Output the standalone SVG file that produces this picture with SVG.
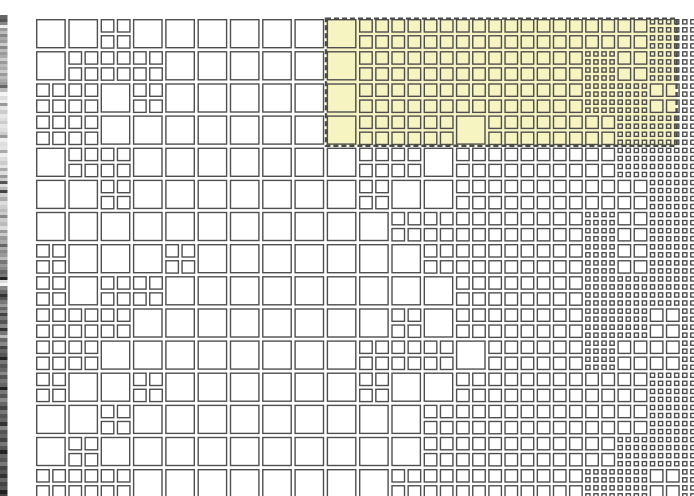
<svg xmlns="http://www.w3.org/2000/svg" xmlns:xlink="http://www.w3.org/1999/xlink" width="694" height="496" viewBox="0 0 694 496">
<style>
.c{fill:none;stroke:#4f4f4f;stroke-width:1.4}
</style>
<defs>
<g id="a"><rect class="c" x="0.7" y="0.7" width="28.4" height="28"/></g>
<g id="b"><rect class="c" x="0.7" y="0.7" width="12.5" height="12.3"/><rect class="c" x="16.85" y="0.7" width="12.5" height="12.3"/><rect class="c" x="0.7" y="16.77" width="12.5" height="12.3"/><rect class="c" x="16.85" y="16.77" width="12.5" height="12.3"/></g>
<g id="cr"><rect class="c" x="0.7" y="0" width="4.2" height="4.2"/><rect class="c" x="8.77" y="0" width="4.2" height="4.2"/><rect class="c" x="16.84" y="0" width="4.2" height="4.2"/><rect class="c" x="24.91" y="0" width="4.2" height="4.2"/></g>
<g id="c"><use href="#cr" y="0.7"/><use href="#cr" y="8.73"/><use href="#cr" y="16.77"/><use href="#cr" y="24.8"/></g>
</defs>
<rect width="694" height="496" fill="#fff"/>
<g id="strip">
<rect x="0" y="15" width="7.5" height="4" fill="#666"/><rect x="0" y="19" width="7.5" height="3" fill="#555"/><rect x="0" y="22" width="7.5" height="3" fill="#888"/><rect x="0" y="25" width="7.5" height="3" fill="#eee"/><rect x="0" y="28" width="7.5" height="3" fill="#999"/><rect x="0" y="31" width="7.5" height="3" fill="#bbb"/><rect x="0" y="34" width="7.5" height="3" fill="#888"/><rect x="0" y="37" width="7.5" height="3" fill="#aaa"/><rect x="0" y="40" width="7.5" height="3" fill="#999"/><rect x="0" y="43" width="7.5" height="3" fill="#ccc"/><rect x="0" y="46" width="7.5" height="3" fill="#888"/><rect x="0" y="49" width="7.5" height="3" fill="#bbb"/><rect x="0" y="52" width="7.5" height="3" fill="#999"/><rect x="0" y="55" width="7.5" height="3" fill="#aaa"/><rect x="0" y="58" width="7.5" height="3" fill="#ccc"/><rect x="0" y="61" width="7.5" height="3" fill="#999"/><rect x="0" y="64" width="7.5" height="3" fill="#bbb"/><rect x="0" y="67" width="7.5" height="3" fill="#aaa"/><rect x="0" y="70" width="7.5" height="3" fill="#ccc"/><rect x="0" y="73" width="7.5" height="3" fill="#999"/><rect x="0" y="76" width="7.5" height="3" fill="#bbb"/><rect x="0" y="79" width="7.5" height="3" fill="#aaa"/><rect x="0" y="82" width="7.5" height="3" fill="#999"/><rect x="0" y="85" width="7.5" height="3" fill="#666"/><rect x="0" y="88" width="7.5" height="4" fill="#bbb"/><rect x="0" y="92" width="7.5" height="4" fill="#f4f4f4"/><rect x="0" y="96" width="7.5" height="4" fill="#ddd"/><rect x="0" y="100" width="7.5" height="3" fill="#eee"/><rect x="0" y="103" width="7.5" height="3" fill="#999"/><rect x="0" y="106" width="7.5" height="4" fill="#e4e4e4"/><rect x="0" y="110" width="7.5" height="4" fill="#ccc"/><rect x="0" y="114" width="7.5" height="4" fill="#e8e8e8"/><rect x="0" y="118" width="7.5" height="3" fill="#ddd"/><rect x="0" y="121" width="7.5" height="3" fill="#ccc"/><rect x="0" y="124" width="7.5" height="4" fill="#e6e6e6"/><rect x="0" y="128" width="7.5" height="4" fill="#ddd"/><rect x="0" y="132" width="7.5" height="3" fill="#ccc"/><rect x="0" y="135" width="7.5" height="3" fill="#999"/><rect x="0" y="138" width="7.5" height="4" fill="#eee"/><rect x="0" y="142" width="7.5" height="4" fill="#ddd"/><rect x="0" y="146" width="7.5" height="4" fill="#e4e4e4"/><rect x="0" y="150" width="7.5" height="3" fill="#aaa"/><rect x="0" y="153" width="7.5" height="4" fill="#eee"/><rect x="0" y="157" width="7.5" height="4" fill="#ddd"/><rect x="0" y="161" width="7.5" height="4" fill="#ccc"/><rect x="0" y="165" width="7.5" height="3" fill="#e4e4e4"/><rect x="0" y="168" width="7.5" height="3" fill="#aaa"/><rect x="0" y="171" width="7.5" height="4" fill="#ddd"/><rect x="0" y="175" width="7.5" height="3" fill="#999"/><rect x="0" y="178" width="7.5" height="3" fill="#ccc"/><rect x="0" y="181" width="7.5" height="3" fill="#555"/><rect x="0" y="184" width="7.5" height="3" fill="#ddd"/><rect x="0" y="187" width="7.5" height="3" fill="#bbb"/><rect x="0" y="190" width="7.5" height="3" fill="#444"/><rect x="0" y="193" width="7.5" height="4" fill="#ccc"/><rect x="0" y="197" width="7.5" height="4" fill="#aaa"/><rect x="0" y="201" width="7.5" height="4" fill="#ddd"/><rect x="0" y="205" width="7.5" height="4" fill="#ccc"/><rect x="0" y="209" width="7.5" height="3" fill="#bbb"/><rect x="0" y="212" width="7.5" height="3" fill="#ccc"/><rect x="0" y="215" width="7.5" height="3" fill="#888"/><rect x="0" y="218" width="7.5" height="4" fill="#ccc"/><rect x="0" y="222" width="7.5" height="4" fill="#bbb"/><rect x="0" y="226" width="7.5" height="4" fill="#ddd"/><rect x="0" y="230" width="7.5" height="3" fill="#999"/><rect x="0" y="233" width="7.5" height="3" fill="#ccc"/><rect x="0" y="236" width="7.5" height="4" fill="#999"/><rect x="0" y="240" width="7.5" height="4" fill="#aaa"/><rect x="0" y="244" width="7.5" height="3" fill="#666"/><rect x="0" y="247" width="7.5" height="3" fill="#aaa"/><rect x="0" y="250" width="7.5" height="3" fill="#888"/><rect x="0" y="253" width="7.5" height="4" fill="#999"/><rect x="0" y="257" width="7.5" height="3" fill="#bbb"/><rect x="0" y="260" width="7.5" height="4" fill="#777"/><rect x="0" y="264" width="7.5" height="3" fill="#999"/><rect x="0" y="267" width="7.5" height="3" fill="#888"/><rect x="0" y="270" width="7.5" height="4" fill="#666"/><rect x="0" y="274" width="7.5" height="3" fill="#777"/><rect x="0" y="277" width="7.5" height="3" fill="#222"/><rect x="0" y="280" width="7.5" height="3" fill="#ddd"/><rect x="0" y="283" width="7.5" height="3" fill="#f4f4f4"/><rect x="0" y="286" width="7.5" height="4" fill="#888"/><rect x="0" y="290" width="7.5" height="4" fill="#666"/><rect x="0" y="294" width="7.5" height="3" fill="#333"/><rect x="0" y="297" width="7.5" height="3" fill="#555"/><rect x="0" y="300" width="7.5" height="4" fill="#777"/><rect x="0" y="304" width="7.5" height="3" fill="#999"/><rect x="0" y="307" width="7.5" height="3" fill="#666"/><rect x="0" y="310" width="7.5" height="3" fill="#888"/><rect x="0" y="313" width="7.5" height="3" fill="#444"/><rect x="0" y="316" width="7.5" height="4" fill="#777"/><rect x="0" y="320" width="7.5" height="4" fill="#555"/><rect x="0" y="324" width="7.5" height="4" fill="#888"/><rect x="0" y="328" width="7.5" height="3" fill="#333"/><rect x="0" y="331" width="7.5" height="4" fill="#777"/><rect x="0" y="335" width="7.5" height="3" fill="#bbb"/><rect x="0" y="338" width="7.5" height="4" fill="#666"/><rect x="0" y="342" width="7.5" height="4" fill="#888"/><rect x="0" y="346" width="7.5" height="3" fill="#444"/><rect x="0" y="349" width="7.5" height="4" fill="#666"/><rect x="0" y="353" width="7.5" height="4" fill="#555"/><rect x="0" y="357" width="7.5" height="3" fill="#222"/><rect x="0" y="360" width="7.5" height="4" fill="#777"/><rect x="0" y="364" width="7.5" height="4" fill="#555"/><rect x="0" y="368" width="7.5" height="4" fill="#666"/><rect x="0" y="372" width="7.5" height="3" fill="#888"/><rect x="0" y="375" width="7.5" height="4" fill="#555"/><rect x="0" y="379" width="7.5" height="4" fill="#777"/><rect x="0" y="383" width="7.5" height="4" fill="#666"/><rect x="0" y="387" width="7.5" height="3" fill="#222"/><rect x="0" y="390" width="7.5" height="4" fill="#777"/><rect x="0" y="394" width="7.5" height="4" fill="#555"/><rect x="0" y="398" width="7.5" height="4" fill="#888"/><rect x="0" y="402" width="7.5" height="4" fill="#666"/><rect x="0" y="406" width="7.5" height="4" fill="#444"/><rect x="0" y="410" width="7.5" height="4" fill="#777"/><rect x="0" y="414" width="7.5" height="4" fill="#555"/><rect x="0" y="418" width="7.5" height="4" fill="#666"/><rect x="0" y="422" width="7.5" height="4" fill="#333"/><rect x="0" y="426" width="7.5" height="4" fill="#888"/><rect x="0" y="430" width="7.5" height="4" fill="#555"/><rect x="0" y="434" width="7.5" height="4" fill="#666"/><rect x="0" y="438" width="7.5" height="4" fill="#444"/><rect x="0" y="442" width="7.5" height="4" fill="#777"/><rect x="0" y="446" width="7.5" height="4" fill="#555"/><rect x="0" y="450" width="7.5" height="4" fill="#222"/><rect x="0" y="454" width="7.5" height="4" fill="#666"/><rect x="0" y="458" width="7.5" height="4" fill="#555"/><rect x="0" y="462" width="7.5" height="4" fill="#777"/><rect x="0" y="466" width="7.5" height="4" fill="#444"/><rect x="0" y="470" width="7.5" height="4" fill="#555"/><rect x="0" y="474" width="7.5" height="4" fill="#333"/><rect x="0" y="478" width="7.5" height="4" fill="#666"/><rect x="0" y="482" width="7.5" height="4" fill="#444"/><rect x="0" y="486" width="7.5" height="4" fill="#555"/><rect x="0" y="490" width="7.5" height="4" fill="#222"/><rect x="0" y="494" width="7.5" height="2" fill="#444"/>
</g>
<rect id="highlight-fill" x="326" y="18.6" width="350.6" height="127.2" fill="#f6f4c1"/>
<g id="grid">
<g id="row0" transform="translate(0 19)"><use href="#a" x="36"/><use href="#a" x="68.3"/><use href="#b" x="100.6"/><use href="#a" x="132.9"/><use href="#a" x="165.2"/><use href="#a" x="197.5"/><use href="#a" x="229.8"/><use href="#a" x="262.1"/><use href="#a" x="294.4"/><use href="#a" x="326.7"/><use href="#b" x="359"/><use href="#b" x="391.3"/><use href="#b" x="423.6"/><use href="#b" x="455.9"/><use href="#b" x="488.2"/><use href="#b" x="520.5"/><use href="#b" x="552.8"/><use href="#b" x="585.1"/><use href="#b" x="617.4"/><use href="#c" x="649.7"/><use href="#c" x="682"/></g>
<g id="row1" transform="translate(0 51.1)"><use href="#a" x="36"/><use href="#b" x="68.3"/><use href="#b" x="100.6"/><use href="#b" x="132.9"/><use href="#a" x="165.2"/><use href="#a" x="197.5"/><use href="#a" x="229.8"/><use href="#a" x="262.1"/><use href="#a" x="294.4"/><use href="#a" x="326.7"/><use href="#b" x="359"/><use href="#b" x="391.3"/><use href="#b" x="423.6"/><use href="#b" x="455.9"/><use href="#b" x="488.2"/><use href="#b" x="520.5"/><use href="#b" x="552.8"/><use href="#c" x="585.1"/><use href="#b" x="617.4"/><use href="#c" x="649.7"/><use href="#c" x="682"/></g>
<g id="row2" transform="translate(0 83.3)"><use href="#b" x="36"/><use href="#b" x="68.3"/><use href="#a" x="100.6"/><use href="#b" x="132.9"/><use href="#a" x="165.2"/><use href="#a" x="197.5"/><use href="#a" x="229.8"/><use href="#a" x="262.1"/><use href="#a" x="294.4"/><use href="#a" x="326.7"/><use href="#b" x="359"/><use href="#b" x="391.3"/><use href="#b" x="423.6"/><use href="#b" x="455.9"/><use href="#b" x="488.2"/><use href="#b" x="520.5"/><use href="#b" x="552.8"/><use href="#c" x="585.1"/><use href="#c" x="617.4"/><use href="#b" x="649.7"/><use href="#c" x="682"/></g>
<g id="row3" transform="translate(0 115.4)"><use href="#b" x="36"/><use href="#b" x="68.3"/><use href="#a" x="100.6"/><use href="#a" x="132.9"/><use href="#a" x="165.2"/><use href="#a" x="197.5"/><use href="#a" x="229.8"/><use href="#a" x="262.1"/><use href="#a" x="294.4"/><use href="#a" x="326.7"/><use href="#b" x="359"/><use href="#b" x="391.3"/><use href="#b" x="423.6"/><use href="#a" x="455.9"/><use href="#b" x="488.2"/><use href="#b" x="520.5"/><use href="#b" x="552.8"/><use href="#b" x="585.1"/><use href="#c" x="617.4"/><use href="#c" x="649.7"/><use href="#c" x="682"/></g>
<g id="row4" transform="translate(0 147.6)"><use href="#a" x="36"/><use href="#b" x="68.3"/><use href="#b" x="100.6"/><use href="#a" x="132.9"/><use href="#a" x="165.2"/><use href="#a" x="197.5"/><use href="#a" x="229.8"/><use href="#a" x="262.1"/><use href="#a" x="294.4"/><use href="#a" x="326.7"/><use href="#b" x="359"/><use href="#b" x="391.3"/><use href="#a" x="423.6"/><use href="#b" x="455.9"/><use href="#b" x="488.2"/><use href="#b" x="520.5"/><use href="#b" x="552.8"/><use href="#b" x="585.1"/><use href="#c" x="617.4"/><use href="#c" x="649.7"/><use href="#c" x="682"/></g>
<g id="row5" transform="translate(0 179.7)"><use href="#a" x="36"/><use href="#a" x="68.3"/><use href="#b" x="100.6"/><use href="#a" x="132.9"/><use href="#a" x="165.2"/><use href="#a" x="197.5"/><use href="#a" x="229.8"/><use href="#a" x="262.1"/><use href="#a" x="294.4"/><use href="#a" x="326.7"/><use href="#b" x="359"/><use href="#a" x="391.3"/><use href="#a" x="423.6"/><use href="#b" x="455.9"/><use href="#b" x="488.2"/><use href="#b" x="520.5"/><use href="#b" x="552.8"/><use href="#b" x="585.1"/><use href="#b" x="617.4"/><use href="#c" x="649.7"/><use href="#c" x="682"/></g>
<g id="row6" transform="translate(0 211.8)"><use href="#a" x="36"/><use href="#a" x="68.3"/><use href="#a" x="100.6"/><use href="#a" x="132.9"/><use href="#a" x="165.2"/><use href="#a" x="197.5"/><use href="#a" x="229.8"/><use href="#a" x="262.1"/><use href="#a" x="294.4"/><use href="#a" x="326.7"/><use href="#a" x="359"/><use href="#b" x="391.3"/><use href="#b" x="423.6"/><use href="#b" x="455.9"/><use href="#b" x="488.2"/><use href="#b" x="520.5"/><use href="#b" x="552.8"/><use href="#c" x="585.1"/><use href="#b" x="617.4"/><use href="#c" x="649.7"/><use href="#c" x="682"/></g>
<g id="row7" transform="translate(0 244)"><use href="#b" x="36"/><use href="#a" x="68.3"/><use href="#a" x="100.6"/><use href="#a" x="132.9"/><use href="#b" x="165.2"/><use href="#a" x="197.5"/><use href="#a" x="229.8"/><use href="#a" x="262.1"/><use href="#a" x="294.4"/><use href="#a" x="326.7"/><use href="#a" x="359"/><use href="#a" x="391.3"/><use href="#b" x="423.6"/><use href="#b" x="455.9"/><use href="#b" x="488.2"/><use href="#b" x="520.5"/><use href="#b" x="552.8"/><use href="#c" x="585.1"/><use href="#b" x="617.4"/><use href="#c" x="649.7"/><use href="#c" x="682"/></g>
<g id="row8" transform="translate(0 276.1)"><use href="#b" x="36"/><use href="#a" x="68.3"/><use href="#b" x="100.6"/><use href="#b" x="132.9"/><use href="#a" x="165.2"/><use href="#a" x="197.5"/><use href="#a" x="229.8"/><use href="#a" x="262.1"/><use href="#a" x="294.4"/><use href="#a" x="326.7"/><use href="#a" x="359"/><use href="#a" x="391.3"/><use href="#a" x="423.6"/><use href="#b" x="455.9"/><use href="#b" x="488.2"/><use href="#b" x="520.5"/><use href="#b" x="552.8"/><use href="#c" x="585.1"/><use href="#c" x="617.4"/><use href="#c" x="649.7"/><use href="#c" x="682"/></g>
<g id="row9" transform="translate(0 308.3)"><use href="#b" x="36"/><use href="#b" x="68.3"/><use href="#b" x="100.6"/><use href="#a" x="132.9"/><use href="#a" x="165.2"/><use href="#a" x="197.5"/><use href="#a" x="229.8"/><use href="#a" x="262.1"/><use href="#a" x="294.4"/><use href="#a" x="326.7"/><use href="#a" x="359"/><use href="#b" x="391.3"/><use href="#a" x="423.6"/><use href="#b" x="455.9"/><use href="#b" x="488.2"/><use href="#b" x="520.5"/><use href="#b" x="552.8"/><use href="#c" x="585.1"/><use href="#c" x="617.4"/><use href="#b" x="649.7"/><use href="#c" x="682"/></g>
<g id="row10" transform="translate(0 340.4)"><use href="#b" x="36"/><use href="#b" x="68.3"/><use href="#a" x="100.6"/><use href="#a" x="132.9"/><use href="#a" x="165.2"/><use href="#a" x="197.5"/><use href="#a" x="229.8"/><use href="#a" x="262.1"/><use href="#a" x="294.4"/><use href="#a" x="326.7"/><use href="#b" x="359"/><use href="#b" x="391.3"/><use href="#b" x="423.6"/><use href="#a" x="455.9"/><use href="#b" x="488.2"/><use href="#b" x="520.5"/><use href="#b" x="552.8"/><use href="#c" x="585.1"/><use href="#b" x="617.4"/><use href="#b" x="649.7"/><use href="#c" x="682"/></g>
<g id="row11" transform="translate(0 372.5)"><use href="#b" x="36"/><use href="#a" x="68.3"/><use href="#a" x="100.6"/><use href="#b" x="132.9"/><use href="#a" x="165.2"/><use href="#a" x="197.5"/><use href="#a" x="229.8"/><use href="#a" x="262.1"/><use href="#a" x="294.4"/><use href="#a" x="326.7"/><use href="#b" x="359"/><use href="#a" x="391.3"/><use href="#a" x="423.6"/><use href="#b" x="455.9"/><use href="#b" x="488.2"/><use href="#b" x="520.5"/><use href="#b" x="552.8"/><use href="#b" x="585.1"/><use href="#b" x="617.4"/><use href="#c" x="649.7"/><use href="#c" x="682"/></g>
<g id="row12" transform="translate(0 404.7)"><use href="#a" x="36"/><use href="#a" x="68.3"/><use href="#b" x="100.6"/><use href="#a" x="132.9"/><use href="#a" x="165.2"/><use href="#a" x="197.5"/><use href="#a" x="229.8"/><use href="#a" x="262.1"/><use href="#a" x="294.4"/><use href="#a" x="326.7"/><use href="#a" x="359"/><use href="#a" x="391.3"/><use href="#b" x="423.6"/><use href="#b" x="455.9"/><use href="#b" x="488.2"/><use href="#b" x="520.5"/><use href="#b" x="552.8"/><use href="#b" x="585.1"/><use href="#b" x="617.4"/><use href="#c" x="649.7"/><use href="#c" x="682"/></g>
<g id="row13" transform="translate(0 436.8)"><use href="#a" x="36"/><use href="#b" x="68.3"/><use href="#a" x="100.6"/><use href="#a" x="132.9"/><use href="#a" x="165.2"/><use href="#a" x="197.5"/><use href="#a" x="229.8"/><use href="#a" x="262.1"/><use href="#a" x="294.4"/><use href="#a" x="326.7"/><use href="#a" x="359"/><use href="#a" x="391.3"/><use href="#b" x="423.6"/><use href="#b" x="455.9"/><use href="#b" x="488.2"/><use href="#b" x="520.5"/><use href="#b" x="552.8"/><use href="#b" x="585.1"/><use href="#c" x="617.4"/><use href="#c" x="649.7"/><use href="#c" x="682"/></g>
<g id="row14" transform="translate(0 469)"><use href="#b" x="36"/><use href="#b" x="68.3"/><use href="#b" x="100.6"/><use href="#a" x="132.9"/><use href="#a" x="165.2"/><use href="#a" x="197.5"/><use href="#a" x="229.8"/><use href="#a" x="262.1"/><use href="#a" x="294.4"/><use href="#a" x="326.7"/><use href="#a" x="359"/><use href="#b" x="391.3"/><use href="#b" x="423.6"/><use href="#b" x="455.9"/><use href="#b" x="488.2"/><use href="#b" x="520.5"/><use href="#b" x="552.8"/><use href="#c" x="585.1"/><use href="#c" x="617.4"/><use href="#b" x="649.7"/><use href="#c" x="682"/></g>
</g>
<rect id="highlight-border" x="326" y="18.6" width="350.6" height="127.2" fill="none" stroke="#4a4a4a" stroke-width="2.4" stroke-dasharray="5 3"/>
</svg>
